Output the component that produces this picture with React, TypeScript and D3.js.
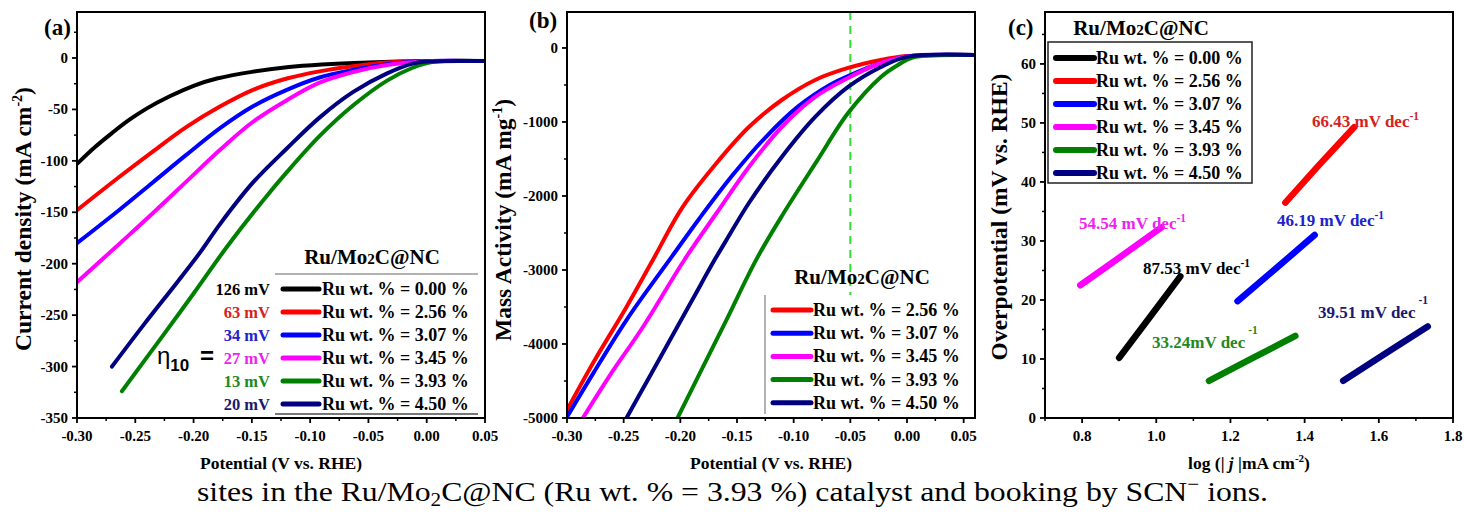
import React from 'react';
import * as d3 from 'd3';

// ---------- DATA ----------
const seriesLabels = [
  'Ru wt. % = 0.00 %',
  'Ru wt. % = 2.56 %',
  'Ru wt. % = 3.07 %',
  'Ru wt. % = 3.45 %',
  'Ru wt. % = 3.93 %',
  'Ru wt. % = 4.50 %',
];
const eta10Labels = ['126 mV', '63 mV', '34 mV', '27 mV', '13 mV', '20 mV'];
const tafelLabels = ['87.53 mV dec', '66.43 mV dec', '46.19 mV dec', '54.54 mV dec', '33.24mV dec', '39.51 mV dec'];

// (a) LSV: [potential V vs RHE, current density mA cm-2]
const aRu000: [number, number][] = [[-0.30, -103], [-0.285, -87], [-0.27, -73], [-0.255, -60], [-0.24, -49], [-0.22, -37], [-0.20, -27], [-0.18, -20], [-0.15, -13.5], [-0.12, -9], [-0.09, -6.3], [-0.05, -4.3], [0, -3], [0.05, -3]];
const aRu256: [number, number][] = [[-0.30, -148], [-0.263, -115], [-0.235, -91], [-0.206, -67], [-0.177, -47], [-0.149, -31], [-0.12, -20], [-0.092, -13], [-0.063, -8], [-0.034, -4.5], [0, -3], [0.05, -3]];
const aRu307: [number, number][] = [[-0.30, -180], [-0.263, -147], [-0.235, -121], [-0.206, -94], [-0.177, -68], [-0.149, -47], [-0.12, -31], [-0.092, -19], [-0.063, -11.5], [-0.034, -6], [0, -3], [0.05, -3]];
const aRu345: [number, number][] = [[-0.30, -218], [-0.263, -180], [-0.235, -151], [-0.206, -120], [-0.177, -89], [-0.149, -62], [-0.12, -41], [-0.092, -24], [-0.063, -13.6], [-0.034, -6.8], [0, -3.2], [0.05, -3]];
const aRu393: [number, number][] = [[-0.2615, -324], [-0.229, -274], [-0.2, -229], [-0.171, -183], [-0.14, -138], [-0.12, -111], [-0.092, -76], [-0.063, -46], [-0.034, -22], [-0.012, -9.5], [0.005, -4], [0.05, -3]];
const aRu450: [number, number][] = [[-0.27, -300], [-0.2425, -259], [-0.214, -218], [-0.195, -190], [-0.177, -161], [-0.149, -121], [-0.12, -88], [-0.092, -58], [-0.063, -33], [-0.034, -15], [-0.012, -5.5], [0, -3.5], [0.05, -3]];

// (b) mass activity: [potential V vs RHE, mA mg-1]
const bRu256: [number, number][] = [[-0.30, -4892], [-0.277, -4257], [-0.2475, -3500], [-0.2255, -2900], [-0.198, -2150], [-0.168, -1554], [-0.1395, -1068], [-0.1105, -703], [-0.081, -432], [-0.052, -270], [-0.023, -162], [0, -110], [0.06, -95]];
const bRu307: [number, number][] = [[-0.30, -4986], [-0.277, -4400], [-0.2475, -3676], [-0.208, -2830], [-0.183, -2300], [-0.154, -1720], [-0.125, -1210], [-0.096, -790], [-0.067, -490], [-0.052, -380], [-0.023, -203], [0, -115], [0.06, -95]];
const bRu345: [number, number][] = [[-0.286, -5000], [-0.262, -4420], [-0.233, -3770], [-0.1965, -2865], [-0.168, -2230], [-0.1395, -1608], [-0.1105, -1068], [-0.081, -662], [-0.052, -405], [-0.023, -203], [0, -115], [0.06, -95]];
const bRu393: [number, number][] = [[-0.2025, -5000], [-0.183, -4400], [-0.1595, -3680], [-0.133, -2860], [-0.11, -2260], [-0.08, -1540], [-0.052, -880], [-0.023, -392], [-0.008, -230], [0.005, -130], [0.06, -95]];
const bRu450: [number, number][] = [[-0.2475, -5000], [-0.23, -4520], [-0.21, -3970], [-0.19, -3420], [-0.17, -2870], [-0.1595, -2600], [-0.1395, -2095], [-0.1105, -1473], [-0.081, -932], [-0.052, -527], [-0.023, -257], [0, -120], [0.06, -95]];

// (c) Tafel: [log|j|, overpotential mV]
const cRu000: [number, number][] = [[0.90, 10.2], [0.984, 17.2], [1.065, 24]];
const cRu256: [number, number][] = [[1.348, 36.5], [1.438, 42.8], [1.534, 49.3]];
const cRu307: [number, number][] = [[1.219, 19.8], [1.32, 25.2], [1.427, 31]];
const cRu345: [number, number][] = [[0.795, 22.5], [0.863, 25.5], [1.014, 32.3]];
const cRu393: [number, number][] = [[1.142, 6.3], [1.258, 10.1], [1.375, 13.9]];
const cRu450: [number, number][] = [[1.504, 6.3], [1.622, 11.1], [1.732, 15.5]];

const xTicksAB = [-0.30, -0.25, -0.20, -0.15, -0.10, -0.05, 0.00, 0.05];
const yTicksA = [0, -50, -100, -150, -200, -250, -300, -350];
const yTicksB = [0, -1000, -2000, -3000, -4000, -5000];
const xTicksC = [0.8, 1.0, 1.2, 1.4, 1.6, 1.8];
const yTicksC = [0, 10, 20, 30, 40, 50, 60];
const dashedPotential = -0.05;

// ---------- STYLE ----------
const colors = ['#000000', '#ff0000', '#0000ff', '#ff00ff', '#008000', '#000080'];
const textColors = ['#000000', '#d42222', '#2222cc', '#ee22ee', '#228822', '#1a1a70'];
const SERIF = "'Liberation Serif', 'Times New Roman', serif";
const SANS = "'Liberation Sans', Arial, sans-serif";

const fmt2 = (v: number) => d3.format('.2f')(v).replace('\u2212', '-');
const fmt1 = (v: number) => d3.format('.1f')(v).replace('\u2212', '-');
const fmt0 = (v: number) => d3.format('d')(v).replace('\u2212', '-');

type Scale = d3.ScaleLinear<number, number>;

function Frame({ x, y, xTicks, xMinor, yTicks, yMinor, xFmt, yFmt }: {
  x: Scale; y: Scale; xTicks: number[]; xMinor: number[]; yTicks: number[]; yMinor: number[];
  xFmt: (v: number) => string; yFmt: (v: number) => string;
}) {
  const [x0, x1] = x.range();
  const [yb, yt] = y.range();
  return (
    <g>
      <rect x={x0} y={yt} width={x1 - x0} height={yb - yt} fill="none" stroke="#000" strokeWidth={2} />
      {xTicks.map((t) => (
        <g key={'xt' + t}>
          <line x1={x(t)} x2={x(t)} y1={yb} y2={yb + 5} stroke="#000" strokeWidth={1.8} />
          <text x={x(t)} y={yb + 23} textAnchor="middle" fontFamily={SERIF} fontWeight="bold" fontSize={15}>{xFmt(t)}</text>
        </g>
      ))}
      {xMinor.map((t) => (
        <line key={'xm' + t} x1={x(t)} x2={x(t)} y1={yb} y2={yb + 3} stroke="#000" strokeWidth={1.5} />
      ))}
      {yTicks.map((t) => (
        <g key={'yt' + t}>
          <line x1={x0} x2={x0 - 5} y1={y(t)} y2={y(t)} stroke="#000" strokeWidth={1.8} />
          <text x={x0 - 9} y={y(t) + 5} textAnchor="end" fontFamily={SERIF} fontWeight="bold" fontSize={15}>{yFmt(t)}</text>
        </g>
      ))}
      {yMinor.map((t) => (
        <line key={'ym' + t} x1={x0} x2={x0 - 3} y1={y(t)} y2={y(t)} stroke="#000" strokeWidth={1.5} />
      ))}
    </g>
  );
}

function Title({ x, y, size = 21 }: { x: number; y: number; size?: number }) {
  return (
    <text x={x} y={y} textAnchor="middle" fontFamily={SERIF} fontWeight="bold" fontSize={size}>
      Ru/Mo<tspan fontSize={size * 0.72}>2</tspan>C@NC
    </text>
  );
}

export default function App() {
  const xA = d3.scaleLinear().domain([-0.30, 0.05]).range([77, 485]);
  const yA = d3.scaleLinear().domain([-350, 44.7]).range([418, 12]);
  const xB = d3.scaleLinear().domain([-0.30, 0.06]).range([567, 975]);
  const yB = d3.scaleLinear().domain([-5000, 486]).range([418, 12]);
  const xC = d3.scaleLinear().domain([0.7, 1.8]).range([1045, 1453]);
  const yC = d3.scaleLinear().domain([0, 68.8]).range([418, 12]);

  const aSeries = [aRu000, aRu256, aRu307, aRu345, aRu393, aRu450];
  const bSeries = [bRu256, bRu307, bRu345, bRu393, bRu450];
  const cSeries = [cRu000, cRu256, cRu307, cRu345, cRu393, cRu450];

  const lineA = d3.line<[number, number]>().x((d) => xA(d[0])).y((d) => yA(d[1])).curve(d3.curveCatmullRom.alpha(0.5));
  const lineB = d3.line<[number, number]>().x((d) => xB(d[0])).y((d) => yB(d[1])).curve(d3.curveCatmullRom.alpha(0.5));
  const lineC = d3.line<[number, number]>().x((d) => xC(d[0])).y((d) => yC(d[1]));

  const minorAB = d3.range(-0.275, 0.06, 0.05);
  const minorYA = d3.range(-325, 30, 50);
  const minorYB = d3.range(-4500, 400, 1000);
  const minorXC = d3.range(0.7, 1.85, 0.2);
  const minorYC = d3.range(5, 66, 10);

  const rowA = (i: number) => 289 + i * 23;
  const rowB = (i: number) => 310 + i * 23.2;
  const rowC = (i: number) => 58 + i * 23;

  const tafelPos: [number, number][] = [[1143, 274], [1312, 127], [1277, 226], [1079, 229], [1152, 348], [1318, 318]];
  const tafelSupDy = [-7, -7, -7, -7, -14, -14];

  return (
    <svg width={1464} height={515} style={{ position: 'absolute', left: 0, top: 0, background: '#fff' }}>
      <defs>
        <clipPath id="clipA"><rect x={77} y={12} width={408} height={406} /></clipPath>
        <clipPath id="clipB"><rect x={567} y={12} width={408} height={406} /></clipPath>
        <clipPath id="clipC"><rect x={1045} y={12} width={408} height={406} /></clipPath>
      </defs>
      <rect x={0} y={0} width={1464} height={515} fill="#fff" />

      {/* ---------- Panel (a) ---------- */}
      <g clipPath="url(#clipA)">
        {aSeries.map((s, i) => (
          <path key={i} d={lineA(s) || ''} fill="none" stroke={colors[i]} strokeWidth={4} strokeLinecap="round" strokeLinejoin="round" />
        ))}
      </g>
      <Frame x={xA} y={yA} xTicks={xTicksAB} xMinor={minorAB} yTicks={yTicksA} yMinor={minorYA} xFmt={fmt2} yFmt={fmt0} />
      <Title x={372} y={264} />
      <line x1={275} x2={478} y1={274} y2={274} stroke="#999" strokeWidth={1.5} />
      <line x1={275} x2={478} y1={414} y2={414} stroke="#777" strokeWidth={2} />
      {seriesLabels.map((lab, i) => (
        <g key={'la' + i}>
          <text x={270} y={rowA(i) + 6} textAnchor="end" fontFamily={SERIF} fontWeight="bold" fontSize={16.5} fill={textColors[i]}>{eta10Labels[i]}</text>
          <line x1={283} x2={319} y1={rowA(i)} y2={rowA(i)} stroke={colors[i]} strokeWidth={5} strokeLinecap="round" />
          <text x={322} y={rowA(i) + 6} fontFamily={SERIF} fontWeight="bold" fontSize={18}>{lab}</text>
        </g>
      ))}
      <text x={157} y={364} fontFamily={SANS} fontSize={24}>
        η<tspan fontSize={17} dy={7} fontWeight="bold">10</tspan><tspan dy={-7} dx={4} fontWeight="bold"> =</tspan>
      </text>
      <text x={44} y={35} fontFamily={SERIF} fontWeight="bold" fontSize={23}>(a)</text>
      <text x={281} y={469} textAnchor="middle" fontFamily={SERIF} fontWeight="bold" fontSize={17.5}>Potential (V vs. RHE)</text>
      <text transform="translate(31,219) rotate(-90)" textAnchor="middle" fontFamily={SERIF} fontWeight="bold" fontSize={23.5}>
        Current density (mA cm<tspan fontSize={14} dy={-9}>-2</tspan><tspan dy={9}>)</tspan>
      </text>

      {/* ---------- Panel (b) ---------- */}
      <line x1={xB(dashedPotential)} x2={xB(dashedPotential)} y1={12} y2={418} stroke="#33dd33" strokeWidth={2} strokeDasharray="8,6" />
      <g clipPath="url(#clipB)">
        {bSeries.map((s, i) => (
          <path key={i} d={lineB(s) || ''} fill="none" stroke={colors[i + 1]} strokeWidth={4} strokeLinecap="round" strokeLinejoin="round" />
        ))}
      </g>
      <rect x={765} y={295} width={208} height={120} fill="#fff" />
      <line x1={765} x2={765} y1={295} y2={414} stroke="#999" strokeWidth={1.5} />
      <Frame x={xB} y={yB} xTicks={xTicksAB} xMinor={minorAB} yTicks={yTicksB} yMinor={minorYB} xFmt={fmt2} yFmt={fmt0} />
      <Title x={862} y={284} />
      {seriesLabels.slice(1).map((lab, i) => (
        <g key={'lb' + i}>
          <line x1={773} x2={811} y1={rowB(i)} y2={rowB(i)} stroke={colors[i + 1]} strokeWidth={5} strokeLinecap="round" />
          <text x={813} y={rowB(i) + 6} fontFamily={SERIF} fontWeight="bold" fontSize={18}>{lab}</text>
        </g>
      ))}
      <text x={529} y={28} fontFamily={SERIF} fontWeight="bold" fontSize={23}>(b)</text>
      <text x={771} y={469} textAnchor="middle" fontFamily={SERIF} fontWeight="bold" fontSize={17.5}>Potential (V vs. RHE)</text>
      <text transform="translate(511,220) rotate(-90)" textAnchor="middle" fontFamily={SERIF} fontWeight="bold" fontSize={23.5}>
        Mass Activity (mA mg<tspan fontSize={14} dy={-9}>-1</tspan><tspan dy={9}>)</tspan>
      </text>

      {/* ---------- Panel (c) ---------- */}
      <g clipPath="url(#clipC)">
        {cSeries.map((s, i) => (
          <path key={i} d={lineC(s) || ''} fill="none" stroke={colors[i]} strokeWidth={6.5} strokeLinecap="round" strokeLinejoin="round" />
        ))}
      </g>
      <Frame x={xC} y={yC} xTicks={xTicksC} xMinor={minorXC} yTicks={yTicksC} yMinor={minorYC} xFmt={fmt1} yFmt={fmt0} />
      {tafelLabels.map((lab, i) => (
        <text key={'tl' + i} x={tafelPos[i][0]} y={tafelPos[i][1]} fontFamily={SERIF} fontWeight="bold" fontSize={17} fill={textColors[i]}>
          {lab}<tspan fontSize={11.5} dy={tafelSupDy[i]} dx={i >= 4 ? 3 : 0}>-1</tspan>
        </text>
      ))}
      <rect x={1048} y={42} width={204} height={141} fill="#fff" stroke="#222" strokeWidth={1.5} />
      <Title x={1141} y={35} />
      {seriesLabels.map((lab, i) => (
        <g key={'lc' + i}>
          <line x1={1056} x2={1094} y1={rowC(i)} y2={rowC(i)} stroke={colors[i]} strokeWidth={6} strokeLinecap="round" />
          <text x={1096} y={rowC(i) + 6} fontFamily={SERIF} fontWeight="bold" fontSize={18}>{lab}</text>
        </g>
      ))}
      <text x={1008} y={35} fontFamily={SERIF} fontWeight="bold" fontSize={23}>(c)</text>
      <text x={1249} y={469} textAnchor="middle" fontFamily={SERIF} fontWeight="bold" fontSize={17.5}>
        log (| <tspan fontStyle="italic">j</tspan> |mA cm<tspan fontSize={11} dy={-7}>-2</tspan><tspan dy={7}>)</tspan>
      </text>
      <text transform="translate(1007,217) rotate(-90)" textAnchor="middle" fontFamily={SERIF} fontWeight="bold" fontSize={23.5}>
        Overpotential (mV vs. RHE)
      </text>

      {/* ---------- Caption ---------- */}
      <text x={197} y={501} fontFamily={SERIF} fontSize={27} textLength={1071} lengthAdjust="spacingAndGlyphs">
        sites in the Ru/Mo<tspan fontSize={18} dy={5}>2</tspan><tspan dy={-5}>C@NC (Ru wt. % = 3.93 %) catalyst and booking by SCN</tspan><tspan fontSize={18} dy={-11}>−</tspan><tspan dy={11}> ions.</tspan>
      </text>
    </svg>
  );
}
